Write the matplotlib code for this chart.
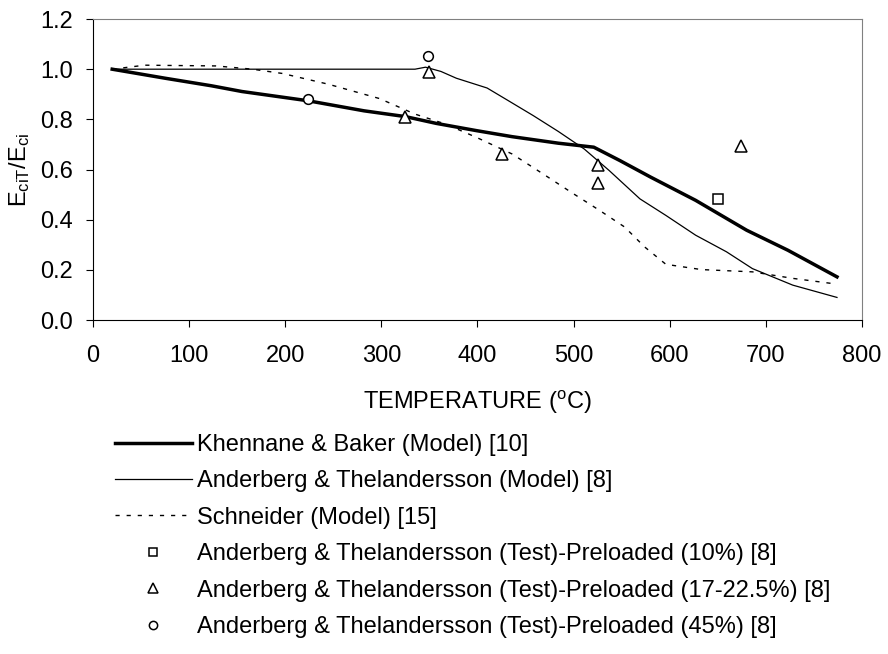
#!/usr/bin/env python3
import matplotlib
matplotlib.use("Agg")
import matplotlib.pyplot as plt

# Khennane & Baker (Model) [10]
kb_temp = [20, 75, 123, 155, 224, 282, 325, 357, 399, 436, 484, 521, 548, 580, 627, 680, 723, 774]
kb_ratio = [1.0, 0.964, 0.934, 0.911, 0.874, 0.834, 0.811, 0.784, 0.755, 0.731, 0.705, 0.689,
            0.636, 0.570, 0.477, 0.358, 0.278, 0.172]

# Anderberg & Thelandersson (Model) [8]
at_temp = [20, 335, 346, 362, 378, 410, 431, 458, 484, 511, 537, 569, 596, 627, 659, 686, 728, 774]
at_ratio = [1.0, 1.0, 1.008, 0.991, 0.964, 0.925, 0.877, 0.815, 0.752, 0.682, 0.596, 0.483,
            0.417, 0.338, 0.272, 0.205, 0.139, 0.090]

# Schneider (Model) [15]
sc_temp = [20, 54, 128, 166, 197, 245, 298, 335, 367, 399, 436, 468, 500, 527, 553, 574, 596,
           633, 686, 728, 774]
sc_ratio = [1.0, 1.016, 1.013, 1.0, 0.983, 0.940, 0.883, 0.821, 0.781, 0.728, 0.662, 0.583,
            0.503, 0.437, 0.371, 0.291, 0.222, 0.201, 0.192, 0.166, 0.143]

# tests
t10_temp = [650]
t10_ratio = [0.483]
t17_temp = [350, 325, 426, 525, 525, 674]
t17_ratio = [0.99, 0.81, 0.66, 0.62, 0.546, 0.695]
t45_temp = [349, 224]
t45_ratio = [1.053, 0.881]

labels = [
    "Khennane & Baker (Model) [10]",
    "Anderberg & Thelandersson (Model) [8]",
    "Schneider (Model) [15]",
    "Anderberg & Thelandersson (Test)-Preloaded (10%) [8]",
    "Anderberg & Thelandersson (Test)-Preloaded (17-22.5%) [8]",
    "Anderberg & Thelandersson (Test)-Preloaded (45%) [8]",
]


def main():
    plt.rcParams['font.family'] = ['Liberation Sans', 'DejaVu Sans']
    plt.rcParams['font.size'] = 17
    plt.rcParams['mathtext.default'] = 'regular'

    fig = plt.figure(figsize=(8.88, 6.54), dpi=100)
    ax = fig.add_axes([0.1047, 0.5107, 0.866, 0.4602])

    mk = dict(linestyle='none', markerfacecolor='white', markeredgecolor='black',
              markeredgewidth=1.1, color='black')
    h1, = ax.plot(kb_temp, kb_ratio, color='black', lw=2.5, label=labels[0])
    h2, = ax.plot(at_temp, at_ratio, color='black', lw=0.9, label=labels[1])
    h3, = ax.plot(sc_temp, sc_ratio, color='black', lw=1.0, linestyle=(0, (3, 5)), label=labels[2])
    h4, = ax.plot(t10_temp, t10_ratio, marker='s', markersize=7, label=labels[3], **mk)
    h5, = ax.plot(t17_temp, t17_ratio, marker='^', markersize=8, label=labels[4], **mk)
    h6, = ax.plot(t45_temp, t45_ratio, marker='o', markersize=7, label=labels[5], **mk)

    ax.set_xlim(0, 800)
    ax.set_ylim(0, 1.2)
    ax.set_xticks(range(0, 801, 100))
    ax.set_yticks([0, 0.2, 0.4, 0.6, 0.8, 1.0, 1.2])
    ax.set_yticklabels(["%.1f" % v for v in [0, 0.2, 0.4, 0.6, 0.8, 1.0, 1.2]])
    ax.tick_params(direction='out', length=5, width=0.8)
    ax.tick_params(axis='x', pad=13)
    ax.tick_params(axis='y', pad=9.5)
    for s in ['top', 'right']:
        ax.spines[s].set_color('#808080')
    for s in ['left', 'bottom']:
        ax.spines[s].set_color('black')

    ax.set_xlabel(r"TEMPERATURE ($^{o}$C)", labelpad=15.5)
    ax.set_ylabel(r"E$_{ciT}$/E$_{ci}$", labelpad=6)

    fig.legend(handles=[h1, h2, h3, h4, h5, h6], loc='upper left',
               bbox_to_anchor=(0.1295, 0.3365), frameon=False, handlelength=3.26,
               handletextpad=0.21, labelspacing=0.61, numpoints=1,
               markerscale=0.85, borderaxespad=0, borderpad=0)

    fig.savefig("out.png", dpi=100)


if __name__ == '__main__':
    main()
